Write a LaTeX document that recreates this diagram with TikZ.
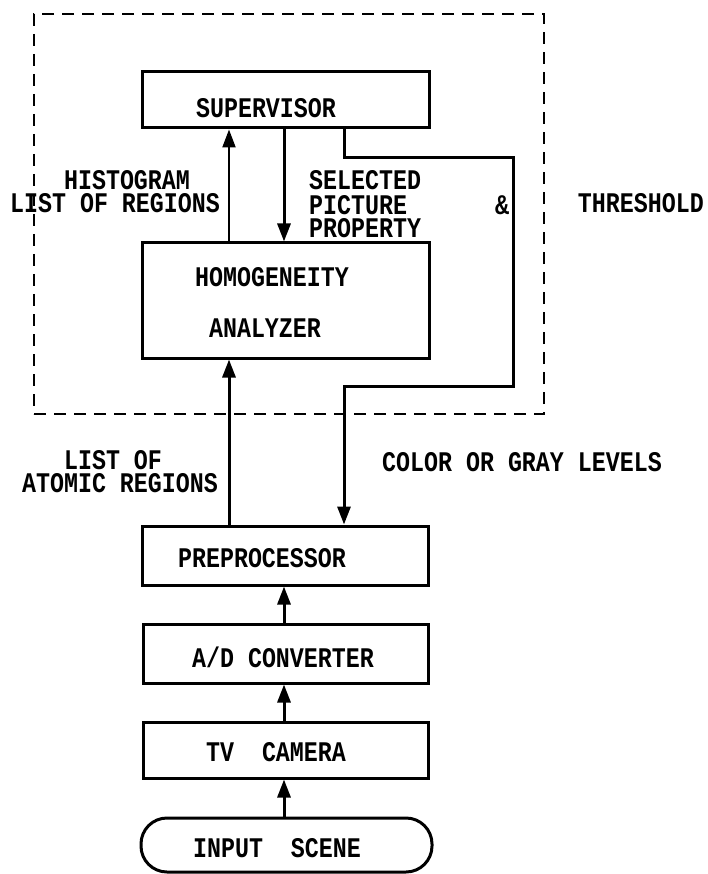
\documentclass[tikz,border=0pt]{standalone}
\usepackage{fontspec}
\usepackage{graphicx}
\newfontfamily\twfont{Liberation Mono}
\newcommand\tw[1]{\scalebox{1}[1.22]{#1}}
\usetikzlibrary{arrows.meta}
\begin{document}
\begin{tikzpicture}[x=1pt,y=-1pt,
  box/.style={draw, line width=3pt, inner sep=0pt},
  roundbox/.style={draw, line width=3pt, inner sep=0pt, rounded corners=26pt},
  frame/.style={draw, line width=2.4pt, dash pattern=on 12pt off 8pt, inner sep=0pt},
  txt/.style={font=\twfont\bfseries\fontsize{23.3}{24}\selectfont, inner sep=0pt, anchor=center},
  arr/.style={line width=3pt, -{Triangle[width=13pt,length=18pt]}},
  ln/.style={line width=3pt}
]
\useasboundingbox (0,0) rectangle (707,874);
% frame
\node[frame, minimum width=510pt, minimum height=400pt] (frm) at (289,214) {};
% boxes
\node[box, minimum width=287pt, minimum height=56pt] (sup) at (285.5,100) {};
\node[box, minimum width=287pt, minimum height=115pt] (hom) at (285.5,300.5) {};
\node[box, minimum width=286pt, minimum height=59pt] (pre) at (285,555.5) {};
\node[box, minimum width=285pt, minimum height=59pt] (ad) at (285.5,653.5) {};
\node[box, minimum width=285pt, minimum height=56pt] (tv) at (285.5,750) {};
\node[roundbox, minimum width=291pt, minimum height=54pt] (inp) at (286.5,845) {};
% texts in boxes
\node[txt] (tsup) at (266,108) {\tw{SUPERVISOR}};
\node[txt] (thom) at (272,277) {\tw{HOMOGENEITY}};
\node[txt] (tana) at (265,328) {\tw{ANALYZER}};
\node[txt] (tpre) at (262,558) {\tw{PREPROCESSOR}};
\node[txt] (tad) at (283,657) {\tw{A/D CONVERTER}};
\node[txt] (ttv) at (276,752) {\tw{TV~~CAMERA}};
\node[txt] (tinp) at (277,848) {\tw{INPUT~~SCENE}};
% labels
\node[txt] (lhist) at (127,180) {\tw{HISTOGRAM}};
\node[txt] (llist) at (115,203) {\tw{LIST OF REGIONS}};
\node[txt, anchor=west] (lsel) at (309,180) {\tw{SELECTED}};
\node[txt, anchor=west] (lpic) at (309,205) {\tw{PICTURE}};
\node[txt, anchor=west] (lprop) at (309,228) {\tw{PROPERTY}};
\node[txt] (lamp) at (502,205) {\tw{\&}};
\node[txt, anchor=east] (lthr) at (704,203) {\tw{THRESHOLD}};
\node[txt] (lls) at (113,460) {\tw{LIST OF}};
\node[txt] (latom) at (120,483) {\tw{ATOMIC REGIONS}};
\node[txt] (lcol) at (522,462) {\tw{COLOR OR GRAY LEVELS}};
% connector coordinates
\coordinate (xa) at (229,0);
\coordinate (xb) at (284,0);
\coordinate (xc) at (344,0);
\coordinate (k1) at (513,158);
\coordinate (k2) at (513,386);
\coordinate (k3) at (344,386);
% connectors
\draw[arr, line width=2.2pt] (hom.north -| xa) -- (sup.south -| xa);
\draw[arr] (sup.south -| xb) -- (hom.north -| xb);
\draw[arr] (sup.south -| xc) |- (k1) -- (k2) -- (k3) -- (pre.north -| k3);
\draw[arr] (pre.north -| xa) -- (hom.south -| xa);
\draw[arr] (ad.north -| xb) -- (pre.south -| xb);
\draw[arr] (tv.north -| xb) -- (ad.south -| xb);
\draw[arr] (inp.north -| xb) -- (tv.south -| xb);
\end{tikzpicture}
\end{document}
